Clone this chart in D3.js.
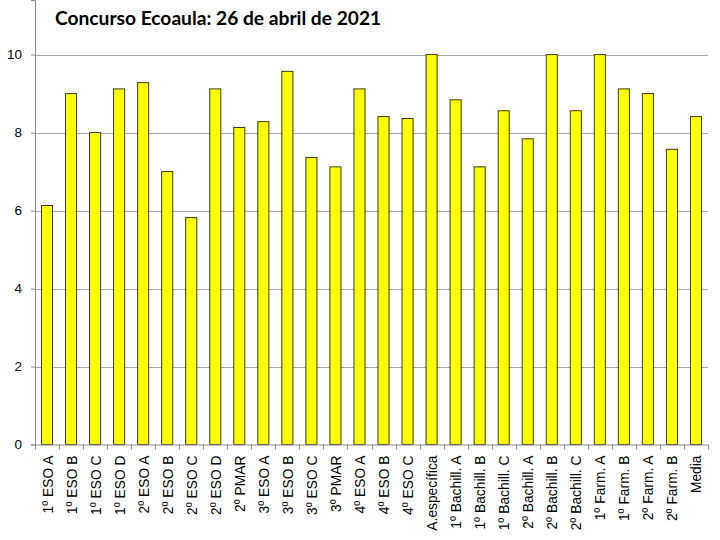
<!DOCTYPE html>
<html>
<head>
<meta charset="utf-8">
<script src="https://cdn.jsdelivr.net/npm/d3@7"></script>
<style>
  body { margin: 0; background: #fff; }
  svg { display: block; }
</style>
</head>
<body>
<div id="chart"></div>
<script>
// data
var categories = ["1º ESO A", "1º ESO B", "1º ESO C", "1º ESO D", "2º ESO A", "2º ESO B",
    "2º ESO C", "2º ESO D", "2º PMAR", "3º ESO A", "3º ESO B", "3º ESO C", "3º PMAR",
    "4º ESO A", "4º ESO B", "4º ESO C", "A.específica", "1º Bachill. A", "1º Bachill. B",
    "1º Bachill. C", "2º Bachill. A", "2º Bachill. B", "2º Bachill. C", "1º Farm. A",
    "1º Farm. B", "2º Farm. A", "2º Farm. B", "Media"];
var scores = [6.13, 9.0, 8.0, 9.12, 9.28, 7.0, 5.82, 9.12, 8.13, 8.28, 9.57, 7.36, 7.12,
    9.12, 8.41, 8.36, 10, 8.84, 7.12, 8.56, 7.84, 10, 8.56, 10, 9.12, 9.0, 7.57, 8.41];
var yTicks = [0, 2, 4, 6, 8, 10];
var title = "Concurso Ecoaula: 26 de abril de 2021";

var width = 720, height = 540;
var margin = {top: 0, right: 12, bottom: 95.5, left: 35};
var plotW = width - margin.left - margin.right,
    plotH = height - margin.top - margin.bottom;

var svg = d3.select("#chart")
    .append("svg")
    .attr("width", width)
    .attr("height", height);

var g = svg.append("g")
    .attr("transform", "translate(" + margin.left + "," + margin.top + ")");

var x = d3.scaleBand()
    .domain(categories)
    .range([0, plotW])
    .paddingInner(0.54)
    .paddingOuter(0.27);

var y = d3.scaleLinear()
    .domain([0, 11.4])
    .range([plotH, 0]);

// gridlines
g.selectAll("line.grid")
    .data(yTicks.filter(function (d) { return d > 0; }))
    .enter()
    .append("line")
    .attr("class", "grid")
    .attr("x1", 0)
    .attr("x2", plotW)
    .attr("y1", function (d) { return Math.round(y(d)) + 0.5; })
    .attr("y2", function (d) { return Math.round(y(d)) + 0.5; })
    .attr("stroke", "#a6a6a6")
    .attr("stroke-width", 1);

// bars
g.selectAll("rect.bar")
    .data(scores)
    .enter()
    .append("rect")
    .attr("class", "bar")
    .attr("x", function (d, i) { return x(categories[i]); })
    .attr("y", function (d) { return y(d); })
    .attr("width", x.bandwidth())
    .attr("height", function (d) { return plotH - y(d); })
    .attr("fill", "#ffff00")
    .attr("stroke", "#3a3a10")
    .attr("stroke-width", 1);

// y axis
var yAxis = g.append("g")
    .call(d3.axisLeft(y).tickValues(yTicks).tickSize(4).tickPadding(9).tickFormat(d3.format("d")));
yAxis.select(".domain").attr("stroke", "#8c8c8c");
yAxis.selectAll(".tick line").attr("stroke", "#8c8c8c");
yAxis.selectAll(".tick text")
    .style("font-family", "'Liberation Sans', Arial, sans-serif")
    .style("font-size", "13.5px")
    .attr("fill", "#000");

// x axis, ticks on band boundaries
var xAxis = g.append("g")
    .attr("transform", "translate(0," + plotH + ")");
xAxis.append("line")
    .attr("x1", 0).attr("x2", plotW)
    .attr("y1", 0.5).attr("y2", 0.5)
    .attr("stroke", "#8c8c8c");
xAxis.selectAll("line.xtick")
    .data(d3.range(categories.length + 1))
    .enter()
    .append("line")
    .attr("class", "xtick")
    .attr("x1", function (i) { return Math.round(i * plotW / categories.length) + 0.5; })
    .attr("x2", function (i) { return Math.round(i * plotW / categories.length) + 0.5; })
    .attr("y1", 0)
    .attr("y2", 5)
    .attr("stroke", "#8c8c8c");
xAxis.selectAll("text.xlabel")
    .data(categories)
    .enter()
    .append("text")
    .attr("class", "xlabel")
    .attr("transform", function (d) {
        return "translate(" + (x(d) + x.bandwidth() / 2 + 5.5) + ",11)rotate(-90)";
    })
    .attr("text-anchor", "end")
    .style("font-family", "'Liberation Sans', Arial, sans-serif")
    .style("font-size", "13.8px")
    .attr("fill", "#000")
    .text(function (d) { return d; });

// title
svg.append("text")
    .attr("x", 55)
    .attr("y", 25)
    .style("font-family", "Lato, 'Open Sans', sans-serif")
    .style("font-weight", "bold")
    .style("font-size", "19.2px")
    .attr("fill", "#000")
    .text(title);
</script>
</body>
</html>
